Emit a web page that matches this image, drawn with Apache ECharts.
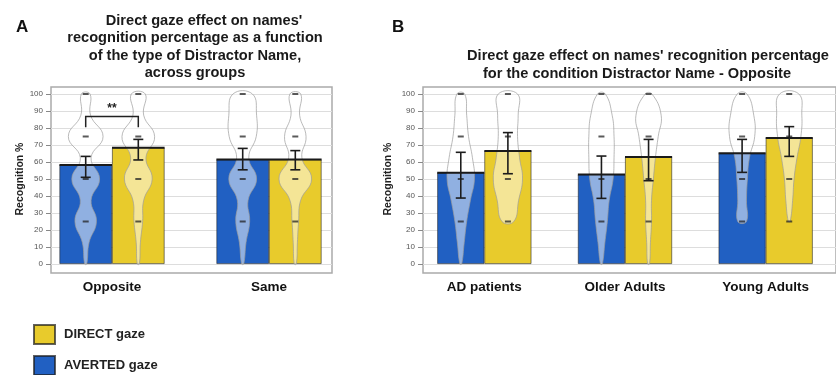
<!DOCTYPE html>
<html><head><meta charset="utf-8">
<script src="https://cdn.jsdelivr.net/npm/echarts@6/dist/echarts.min.js"></script>
<style>html,body{margin:0;padding:0;background:#fff}#c{width:836px;height:375px}</style>
</head><body><div id="c"></div>
<script>
// ---------- DATA ----------
const catsA = ['Opposite', 'Same'];
const avertedA = [58.2, 61.5];
const directA = [68.4, 61.5];
const avertedLoA = [51.0, 55.4];
const avertedHiA = [63.3, 68.0];
const directLoA = [61.2, 55.4];
const directHiA = [73.3, 66.7];

const catsB = ['AD patients', 'Older Adults', 'Young Adults'];
const avertedB = [53.7, 52.7, 65.1];
const directB = [66.5, 62.9, 74.1];
const avertedLoB = [38.8, 38.6, 53.9];
const avertedHiB = [65.7, 63.5, 73.3];
const directLoB = [53.1, 49.0, 63.3];
const directHiB = [77.3, 73.3, 80.8];

// violin relative densities at these recognition levels (null = no density)
const violinLevels = [0, 12.5, 25, 37.5, 50, 62.5, 75, 87.5, 100];
const violinAvertedA = [
  [0.06, 0.19, 0.62, 0.31, 0.80, 0.31, 1.00, 0.28, 0.25],
  [0.06, 0.19, 0.40, 0.31, 0.80, 0.35, 0.78, 0.80, 0.56]
];
const violinDirectA = [
  [0.06, 0.12, 0.25, 0.31, 0.80, 0.44, 0.94, 0.31, 0.40],
  [0.06, 0.12, 0.19, 0.31, 0.94, 0.38, 0.62, 0.25, 0.31]
];
const violinAvertedB = [
  [0.06, 0.22, 0.38, 0.62, 0.88, 0.75, 0.50, 0.38, 0.25],
  [0.06, 0.22, 0.38, 0.50, 0.75, 0.81, 0.81, 0.69, 0.25],
  [null, null, 0.28, 0.28, 0.34, 0.47, 0.81, 0.75, 0.31]
];
const violinDirectB = [
  [null, null, 0.38, 0.69, 0.94, 0.75, 0.62, 0.66, 0.62],
  [0.06, 0.12, 0.19, 0.19, 0.31, 0.44, 0.62, 0.81, 0.22],
  [null, null, 0.06, 0.22, 0.31, 0.50, 0.75, 0.81, 0.62]
];
const responseLevels = [25, 50, 75, 100];
const yTicks = { min: 0, max: 100, interval: 10 };
const sigBracketA = { category: 0, top: 86.7, legBottom: 80.5, label: '**' };

// ---------- STYLE ----------
const BLUE = '#2160C2', YELLOW = '#E8CB2C';
const GAP = 0.33;
const WSCALE = 0.33;

const chart = echarts.init(document.getElementById('c'), null, { renderer: 'canvas' });

function barOffset(api, side) {
  const band = api.size([1, 0])[0];
  const barW = band * (1 - GAP) / 2;
  return { barW: barW, off: side * barW / 2 };
}

function violinSeries(xi, yi, dens, side) {
  return {
    type: 'custom', xAxisIndex: xi, yAxisIndex: yi, z: 3, silent: true,
    data: dens.map((d, i) => [i]),
    renderItem: function (params, api) {
      const i = api.value(0);
      const o = barOffset(api, side);
      const cx = api.coord([i, 0])[0] + o.off;
      const d = dens[i];
      const right = [], left = [];
      let lo = null, hi = null;
      violinLevels.forEach((lv, k) => {
        if (d[k] == null) return;
        if (lo === null) lo = lv;
        hi = lv;
        const y = api.coord([i, lv])[1];
        const w = Math.max(0.6, d[k] * o.barW * WSCALE);
        right.push([cx + w, y]);
        left.push([cx - w, y]);
      });
      const pts = right.concat(left.reverse());
      const children = [{
        type: 'polygon', shape: { points: pts, smooth: 0.45 },
        style: { fill: 'rgba(255,255,255,0.5)', stroke: '#9c9c9c', lineWidth: 0.7 }
      }];
      responseLevels.forEach(lv => {
        if (lv < lo || lv > hi) return;
        const y = api.coord([i, lv])[1];
        children.push({ type: 'rect', shape: { x: cx - 3, y: y - 1, width: 6, height: 2 },
          style: { fill: 'rgba(35,35,35,0.75)' } });
      });
      return { type: 'group', children: children };
    }
  };
}

function errSeries(xi, yi, means, los, his, side) {
  return {
    type: 'custom', xAxisIndex: xi, yAxisIndex: yi, z: 5, silent: true,
    data: means.map((m, i) => [i, m, los[i], his[i]]),
    renderItem: function (params, api) {
      const i = api.value(0);
      const o = barOffset(api, side);
      const cx = api.coord([i, 0])[0] + o.off;
      const ym = api.coord([i, api.value(1)])[1];
      const yl = api.coord([i, api.value(2)])[1];
      const yh = api.coord([i, api.value(3)])[1];
      const st = { stroke: '#1c1c1c', lineWidth: 1.6 };
      return { type: 'group', children: [
        { type: 'line', shape: { x1: cx - o.barW / 2, y1: ym, x2: cx + o.barW / 2, y2: ym }, style: { stroke: '#1a1a1a', lineWidth: 2 } },
        { type: 'line', shape: { x1: cx, y1: yl, x2: cx, y2: yh }, style: st },
        { type: 'line', shape: { x1: cx - 5, y1: yl, x2: cx + 5, y2: yl }, style: st },
        { type: 'line', shape: { x1: cx - 5, y1: yh, x2: cx + 5, y2: yh }, style: st }
      ] };
    }
  };
}

function barSeries(name, xi, yi, vals, color) {
  return {
    type: 'bar', name: name, xAxisIndex: xi, yAxisIndex: yi, data: vals, z: 2,
    barGap: '0%', barCategoryGap: (GAP * 100) + '%', silent: true,
    itemStyle: { color: color, borderColor: 'rgba(30,30,30,0.7)', borderWidth: 0.8 }
  };
}

const axisY = (grid, gap) => ({
  type: 'value', gridIndex: grid, min: yTicks.min, max: yTicks.max, interval: yTicks.interval,
  axisLine: { show: false },
  axisTick: { show: true, length: 5, lineStyle: { color: '#888' } },
  axisLabel: { fontSize: 8, color: '#555', margin: 8, fontFamily: 'Liberation Sans' },
  splitLine: { lineStyle: { color: '#dddddd', width: 1 } },
  name: 'Recognition %', nameLocation: 'middle', nameGap: gap, nameRotate: 90,
  nameTextStyle: { fontSize: 10.5, fontWeight: 'bold', color: '#222', fontFamily: 'Liberation Sans' }
});
const hiddenY = (grid) => ({ type: 'value', gridIndex: grid, min: yTicks.min, max: yTicks.max, show: false });
const labelX = (grid, cats) => ({
  type: 'category', gridIndex: grid, data: cats,
  axisLine: { show: false }, axisTick: { show: false },
  axisLabel: { fontSize: 13.5, fontWeight: 'bold', color: '#111', margin: 16, fontFamily: 'Liberation Sans' }
});
const titleText = { fontSize: 14.6, fontWeight: 'bold', color: '#1a1a1a' };
const legendBase = {
  orient: 'vertical', left: 33, padding: 0,
  itemWidth: 21, itemHeight: 19, icon: 'rect', selectedMode: false,
  textStyle: { fontSize: 13, fontWeight: 'bold', color: '#222', padding: [0, 0, 0, 4] }
};

const option = {
  animation: false,
  backgroundColor: '#fff',
  textStyle: { fontFamily: 'Liberation Sans' },
  title: [
    { text: 'A', left: 11, top: 14, textStyle: { fontSize: 17, fontWeight: 'bold', color: '#111' } },
    { text: "Direct gaze effect on names'", left: 199, top: 7, textAlign: 'center',
      textStyle: Object.assign({ lineHeight: 17.5 }, titleText) },
    { text: "recognition percentage as a function\nof the type of Distractor Name,\nacross groups",
      left: 190, top: 24.5, textAlign: 'center',
      textStyle: Object.assign({ lineHeight: 17.5 }, titleText) },
    { text: 'B', left: 387, top: 14, textStyle: { fontSize: 17, fontWeight: 'bold', color: '#111' } },
    { text: "Direct gaze effect on names' recognition percentage", left: 643, top: 42, textAlign: 'center',
      textStyle: Object.assign({ lineHeight: 18 }, titleText) },
    { text: "for the condition Distractor Name - Opposite", left: 632, top: 60, textAlign: 'center',
      textStyle: Object.assign({ lineHeight: 18 }, titleText) }
  ],
  legend: [
    Object.assign({ data: ['DIRECT gaze'], top: 324 }, legendBase),
    Object.assign({ data: ['AVERTED gaze'], top: 355 }, legendBase)
  ],
  grid: [
    { left: 51, top: 94, width: 281, height: 170 },
    { left: 33.5, top: 94, width: 314, height: 170 },
    { left: 51, top: 87, width: 281, height: 186, show: true, borderColor: '#aaa', borderWidth: 1.5, backgroundColor: 'transparent' },
    { left: 423, top: 94, width: 415, height: 170 },
    { left: 414, top: 94, width: 444, height: 170 },
    { left: 423, top: 87, width: 415, height: 186, show: true, borderColor: '#aaa', borderWidth: 1.5, backgroundColor: 'transparent' }
  ],
  xAxis: [
    { type: 'category', gridIndex: 0, data: catsA, show: false },
    labelX(1, catsA),
    { type: 'value', gridIndex: 2, show: false },
    { type: 'category', gridIndex: 3, data: catsB, show: false },
    labelX(4, catsB),
    { type: 'value', gridIndex: 5, show: false }
  ],
  yAxis: [
    axisY(0, 21), hiddenY(1), { type: 'value', gridIndex: 2, show: false },
    axisY(3, 29), hiddenY(4), { type: 'value', gridIndex: 5, show: false }
  ],
  series: [
    barSeries('AVERTED gaze', 1, 1, avertedA, BLUE),
    barSeries('DIRECT gaze', 1, 1, directA, YELLOW),
    violinSeries(1, 1, violinAvertedA, -1),
    violinSeries(1, 1, violinDirectA, 1),
    errSeries(1, 1, avertedA, avertedLoA, avertedHiA, -1),
    errSeries(1, 1, directA, directLoA, directHiA, 1),
    barSeries('AVERTED gaze', 4, 4, avertedB, BLUE),
    barSeries('DIRECT gaze', 4, 4, directB, YELLOW),
    violinSeries(4, 4, violinAvertedB, -1),
    violinSeries(4, 4, violinDirectB, 1),
    errSeries(4, 4, avertedB, avertedLoB, avertedHiB, -1),
    errSeries(4, 4, directB, directLoB, directHiB, 1),
    {
      type: 'custom', xAxisIndex: 1, yAxisIndex: 1, z: 6, silent: true,
      data: [[sigBracketA.category, sigBracketA.top, sigBracketA.legBottom]],
      renderItem: function (params, api) {
        const i = api.value(0);
        const oL = barOffset(api, -1), oR = barOffset(api, 1);
        const c = api.coord([i, api.value(1)]);
        const xl = c[0] + oL.off, xr = c[0] + oR.off;
        const yt = c[1];
        const yb = api.coord([i, api.value(2)])[1];
        return { type: 'group', children: [
          { type: 'polyline', shape: { points: [[xl, yb], [xl, yt], [xr, yt], [xr, yb]] },
            style: { stroke: '#222', lineWidth: 1.5, fill: null } },
          { type: 'text', style: { x: (xl + xr) / 2, y: yt - 2, text: sigBracketA.label,
            align: 'center', verticalAlign: 'bottom', fontSize: 12, fontWeight: 'bold', fill: '#222',
            fontFamily: 'Liberation Sans' } }
        ] };
      }
    }
  ]
};
chart.setOption(option);
</script></body></html>
